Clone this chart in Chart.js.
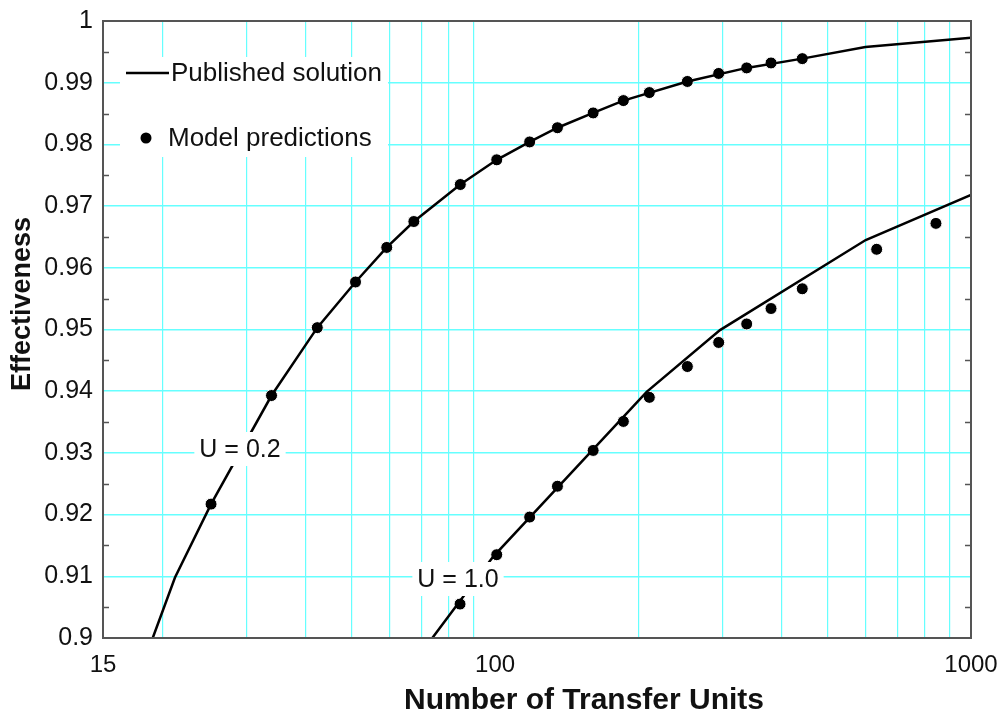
<!DOCTYPE html>
<html>
<head>
<meta charset="utf-8">
<script src="https://cdn.jsdelivr.net/npm/chart.js@4/dist/chart.umd.min.js"></script>
<style>
  html, body { margin: 0; padding: 0; background: #fff; }
  #wrap { width: 1003px; height: 717px; }
</style>
</head>
<body>
<div id="wrap"><canvas id="c" width="1003" height="717"></canvas></div>
<script>
// ---- data ----
const xTickLabels = [15, 100, 1000];
const xGridValues = [20, 30, 40, 50, 60, 70, 80, 90, 200, 300, 400, 500, 600, 700, 800, 900];
const yTickValues = [0.9, 0.91, 0.92, 0.93, 0.94, 0.95, 0.96, 0.97, 0.98, 0.99, 1.0];
const yMinorTicks = [0.905, 0.915, 0.925, 0.935, 0.945, 0.955, 0.965, 0.975, 0.985, 0.995];

const u02LineN = [19.08, 21.25, 25.3, 33.9, 42.3, 50.9, 59.2, 67.5, 84.5, 100.8, 118.2, 135.2, 160.7, 186, 253.5, 337.8, 442, 600, 1000];
const u02LineE = [0.9, 0.9098, 0.9217, 0.9393, 0.9503, 0.9577, 0.9633, 0.9675, 0.9735, 0.9775, 0.9804, 0.9827, 0.9851, 0.9871, 0.9902, 0.9924, 0.9939, 0.9958, 0.9973];
const u02ModelN = [25.3, 33.9, 42.3, 50.9, 59.2, 67.5, 84.5, 100.8, 118.2, 135.2, 160.7, 186, 210.9, 253.5, 295, 337.8, 380, 442];
const u02ModelE = [0.9217, 0.9393, 0.9503, 0.9577, 0.9633, 0.9675, 0.9735, 0.9775, 0.9804, 0.9827, 0.9851, 0.9871, 0.9884, 0.9902, 0.9915, 0.9924, 0.9932, 0.9939];

const u10LineN = [73.8, 99.1, 208.2, 296.9, 600.8, 1000];
const u10LineE = [0.9, 0.9132, 0.9399, 0.9499, 0.9645, 0.9718];
const u10ModelN = [84.4, 100.8, 118.2, 135.2, 160.7, 186, 210.9, 253.5, 295, 337.8, 380, 442, 633.6, 844];
const u10ModelE = [0.9055, 0.9135, 0.9196, 0.9246, 0.9304, 0.9351, 0.9390, 0.9440, 0.9479, 0.9509, 0.9534, 0.9566, 0.9630, 0.9672];

const curveLabels = ["U = 0.2", "U = 1.0"];
const legendLabels = ["Published solution", "Model predictions"];
const xTitle = "Number of Transfer Units";
const yTitle = "Effectiveness";

const zip = (xs, ys) => xs.map((x, i) => ({ x: x, y: ys[i] }));

// ---- styles ----
const FONT = "'Liberation Sans', Arial, sans-serif";
const GRID = '#66ffff';
const FRAME = '#555';

const overlay = {
  id: 'overlay',
  afterDatasetsDraw(chart) {
    const ctx = chart.ctx;
    const ys = chart.scales.y;
    const a = chart.chartArea;
    ctx.save();
    // frame
    ctx.strokeStyle = FRAME;
    ctx.lineWidth = 2;
    ctx.strokeRect(a.left, a.top, a.right - a.left, a.bottom - a.top);
    // minor inward ticks on y (left & right)
    ctx.lineWidth = 1.5;
    yMinorTicks.forEach(v => {
      const py = Math.round(ys.getPixelForValue(v)) + 0.5;
      ctx.beginPath();
      ctx.moveTo(a.left, py); ctx.lineTo(a.left + 6, py);
      ctx.moveTo(a.right, py); ctx.lineTo(a.right - 6, py);
      ctx.stroke();
    });
    // curve labels with white background
    ctx.font = '25px ' + FONT;
    ctx.textAlign = 'center';
    ctx.textBaseline = 'middle';
    const lab = [
      { t: curveLabels[0], x: 240, y: 449 },
      { t: curveLabels[1], x: 458, y: 579 }
    ];
    lab.forEach(l => {
      const w = ctx.measureText(l.t).width;
      ctx.fillStyle = '#fff';
      ctx.fillRect(l.x - w / 2 - 5, l.y - 17, w + 10, 34);
      ctx.fillStyle = '#111';
      ctx.fillText(l.t, l.x, l.y + 1);
    });
    // legend
    ctx.fillStyle = '#fff';
    ctx.fillRect(120, 57, 268, 100);
    ctx.strokeStyle = '#000';
    ctx.lineWidth = 2.5;
    ctx.beginPath(); ctx.moveTo(126, 73); ctx.lineTo(169, 73); ctx.stroke();
    ctx.fillStyle = '#000';
    ctx.beginPath(); ctx.arc(146, 138, 5.5, 0, Math.PI * 2); ctx.fill();
    ctx.fillStyle = '#111';
    ctx.textAlign = 'left';
    ctx.font = '26px ' + FONT;
    ctx.fillText(legendLabels[0], 171, 74);
    ctx.fillText(legendLabels[1], 168, 139);
    // axis titles
    ctx.textAlign = 'center';
    ctx.font = 'bold 30px ' + FONT;
    ctx.fillText(xTitle, 584, 701);
    ctx.save();
    ctx.translate(23, 304);
    ctx.rotate(-Math.PI / 2);
    ctx.font = 'bold 27px ' + FONT;
    ctx.fillText(yTitle, 0, 0);
    ctx.restore();
    ctx.restore();
  }
};

const lineDs = (data) => ({
  type: 'line', data: data, showLine: true, borderColor: '#000', borderWidth: 2.5,
  pointRadius: 0, fill: false, tension: 0, clip: 0
});
const ptDs = (data) => ({
  type: 'scatter', data: data, backgroundColor: '#000', borderColor: '#fff',
  borderWidth: 1, pointRadius: 6, clip: 0
});

new Chart(document.getElementById('c'), {
  type: 'scatter',
  data: {
    datasets: [
      lineDs(zip(u02LineN, u02LineE)),
      lineDs(zip(u10LineN, u10LineE)),
      ptDs(zip(u02ModelN, u02ModelE)),
      ptDs(zip(u10ModelN, u10ModelE))
    ]
  },
  options: {
    responsive: false,
    animation: false,
    layout: { padding: { left: 0, top: 21, right: 32, bottom: 0 } },
    plugins: { legend: { display: false }, tooltip: { enabled: false } },
    scales: {
      x: {
        type: 'logarithmic', min: 15, max: 1000,
        afterBuildTicks: s => { s.ticks = xTickLabels.concat(xGridValues).sort((p, q) => p - q).map(v => ({ value: v })); },
        afterFit: s => { s.height = 79; s.paddingLeft = 0; s.paddingRight = 0; },
        ticks: {
          autoSkip: false, maxRotation: 0, padding: 13, color: '#111',
          font: { family: FONT, size: 24 },
          callback: v => xTickLabels.includes(v) ? String(v) : ''
        },
        grid: {
          drawTicks: false,
          color: c => (c.tick && xGridValues.includes(c.tick.value)) ? GRID : 'rgba(0,0,0,0)',
          lineWidth: 1.2
        },
        border: { display: false },
        title: { display: false }
      },
      y: {
        type: 'linear', min: 0.9, max: 1.0,
        afterBuildTicks: s => { s.ticks = yTickValues.map(v => ({ value: v })); },
        afterFit: s => { s.width = 103; s.paddingTop = 0; s.paddingBottom = 0; },
        ticks: {
          padding: 10, color: '#111',
          font: { family: FONT, size: 25 },
          callback: v => String(Number(v.toFixed(2)))
        },
        grid: {
          drawTicks: false,
          color: c => (c.tick && (c.tick.value > 0.901 && c.tick.value < 0.999)) ? GRID : 'rgba(0,0,0,0)',
          lineWidth: 1.6
        },
        border: { display: false },
        title: { display: false }
      }
    }
  },
  plugins: [overlay]
});
</script>
</body>
</html>
